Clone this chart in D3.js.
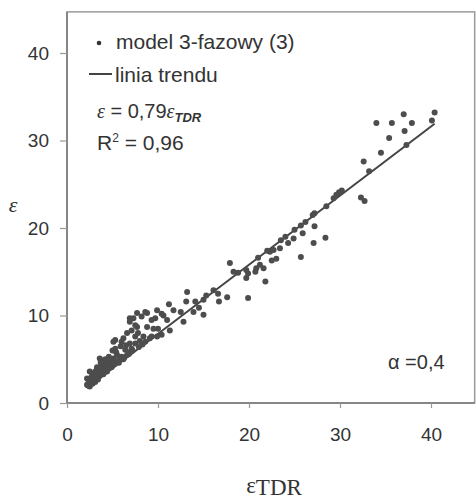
<!DOCTYPE html>
<html>
<head>
<meta charset="utf-8">
<script src="https://cdn.jsdelivr.net/npm/d3@7"></script>
<style>
  html, body { margin: 0; padding: 0; background: #fff; }
  svg { display: block; }
</style>
</head>
<body>
<svg id="chart" width="476" height="500"></svg>
<script>
// Measured permittivity (TDR) vs permittivity from the 3-phase model
const epsTDR = [
  34.0, 35.7, 37.0, 37.9, 37.1, 40.4, 40.1, 35.4, 37.3, 34.5, 32.6, 33.2, 30.2, 29.9, 29.3, 32.3, 32.7, 29.6,
  27.2, 27.0, 25.7, 27.2, 25.9, 24.9, 28.4, 27.1, 25.7, 24.3, 23.4, 22.7, 22.3, 22.5, 23.0, 21.6, 20.8, 20.7,
  21.2, 19.9, 19.7, 21.8, 17.9, 18.3, 19.7, 19.9, 17.6, 16.7, 16.6, 16.1, 15.3, 15.0, 15.0, 14.5, 14.1, 13.9,
  13.2, 13.1, 12.8, 12.5, 11.7, 11.2, 10.4, 10.6, 9.7, 11.0, 11.3, 9.5, 10.0, 10.4, 9.9,
  24.0, 25.0, 26.2, 23.5, 28.5, 21.0, 22.0, 18.8,
  8.8, 8.2, 9.3, 9.9, 6.9, 7.7, 8.8, 7.8, 8.4, 9.3, 7.5, 7.1, 6.2, 6.0, 5.1, 5.3, 5.5, 6.4, 4.7, 4.4,
  3.6, 3.8, 3.3, 3.1, 2.5, 2.7, 2.2, 2.2, 2.5, 3.1, 3.4, 4.0, 4.5, 5.1, 5.8, 6.6, 6.9, 6.6, 7.1, 7.5,
  6.9, 7.7, 8.6, 7.3, 7.5, 5.3,
  2.4, 2.8, 2.9, 3.2, 3.5, 3.9, 4.2, 4.8, 5.0, 5.6, 6.0, 6.2, 3.0, 2.6, 4.3, 5.4, 5.9, 6.5, 7.0, 7.9,
  8.3, 4.6, 3.7, 2.9, 3.6, 4.1,
  2.3, 2.6, 3.0, 3.4, 4.0, 4.4, 4.9, 5.2, 5.7, 6.3, 6.8, 7.2, 8.0, 8.6, 9.1, 5.0, 4.2, 3.3
];
const epsModel = [
  32.0, 32.0, 33.0, 32.0, 31.1, 33.2, 32.3, 30.3, 29.5, 28.6, 27.6, 26.5, 24.3, 24.1, 23.4, 23.5, 23.1, 23.8,
  21.7, 21.5, 20.3, 20.2, 19.4, 18.8, 18.9, 18.3, 16.7, 18.3, 17.7, 17.5, 17.3, 16.3, 16.5, 15.4, 15.4, 15.0,
  15.8, 14.8, 14.3, 13.9, 16.0, 15.0, 15.2, 12.0, 12.1, 11.6, 12.5, 12.9, 12.3, 11.8, 10.1, 10.9, 11.6, 10.4,
  12.7, 11.6, 9.3, 10.4, 10.6, 11.3, 10.2, 10.0, 9.7, 9.5, 8.3, 8.5, 8.5, 7.8, 7.6,
  19.0, 19.8, 20.7, 18.6, 22.5, 16.6, 17.4, 14.9,
  10.3, 9.9, 9.5, 10.6, 9.3, 8.7, 8.7, 8.0, 7.6, 7.6, 6.8, 6.2, 7.4, 7.0, 7.0, 6.2, 5.5, 6.1, 4.7, 4.5,
  5.1, 4.3, 4.1, 3.6, 3.6, 3.0, 2.8, 2.1, 1.9, 2.4, 3.0, 3.4, 4.0, 5.1, 5.1, 5.5, 6.8, 8.0, 8.3, 7.6,
  9.7, 10.3, 10.4, 9.7, 8.9, 7.2,
  2.4, 2.2, 2.7, 3.2, 3.5, 3.9, 4.4, 4.6, 4.3, 4.8, 5.3, 5.0, 2.9, 2.6, 3.7, 5.8, 6.5, 6.6, 5.9, 6.4,
  6.7, 5.3, 4.6, 3.3, 3.1, 4.9,
  2.0, 2.3, 2.5, 2.7, 3.3, 3.6, 4.1, 4.5, 4.6, 5.2, 5.6, 6.0, 7.1, 7.0, 7.4, 6.0, 5.0, 3.9
];
const tickValues = [0, 10, 20, 30, 40];
const trendSlope = 0.79;
const legendLabels = ["model 3-fazowy (3)", "linia trendu"];

const svg = d3.select("#chart");
const ink = "#333";

const x = d3.scaleLinear().domain([0, 40]).range([67, 431]);
const y = d3.scaleLinear().domain([0, 40]).range([403, 53]);
const xMax = 44.8, yMax = 44.7;

// plot frame (top and right edges)
svg.append("rect")
  .attr("x", x(0)).attr("y", y(yMax))
  .attr("width", x(xMax) - x(0)).attr("height", y(0) - y(yMax))
  .attr("fill", "none").attr("stroke", "#9a9a9a").attr("stroke-width", 1.5);

// axes
const yAxis = svg.append("g")
  .attr("transform", `translate(${x(0)},0)`)
  .call(d3.axisLeft(y).tickValues(tickValues).tickSize(7).tickPadding(11).tickSizeOuter(0));
const xAxis = svg.append("g")
  .attr("transform", `translate(0,${y(0)})`)
  .call(d3.axisBottom(x).tickValues(tickValues).tickSize(5).tickPadding(20).tickSizeOuter(0));

[xAxis, yAxis].forEach(g => {
  g.select(".domain").attr("stroke", "#777").attr("stroke-width", 1.5);
  g.selectAll(".tick line").attr("stroke", "#999").attr("stroke-width", 1.2);
  g.selectAll(".tick text")
    .attr("fill", ink)
    .style("font-family", "'Liberation Sans', Arial, sans-serif")
    .style("font-size", "19px");
});
yAxis.select(".domain").attr("d", `M0,${y(0)}V${y(yMax)}`);
xAxis.select(".domain").attr("d", `M${x(0)},0H${x(xMax)}`);

// trend line  ε = 0.79 εTDR, over the data range
const xExt = d3.extent(epsTDR);
svg.append("line")
  .attr("x1", x(xExt[0])).attr("y1", y(trendSlope * xExt[0]))
  .attr("x2", x(xExt[1])).attr("y2", y(trendSlope * xExt[1]))
  .attr("stroke", "#444").attr("stroke-width", 2);

// points
svg.append("g").selectAll("circle")
  .data(epsTDR.map((v, i) => [v, epsModel[i]]))
  .join("circle")
  .attr("cx", d => x(d[0]))
  .attr("cy", d => y(d[1]))
  .attr("r", 3)
  .attr("fill", "#4d4d4d");

// legend
const sans = "'Liberation Sans', Arial, sans-serif";
const serif = "'Liberation Serif', 'DejaVu Serif', serif";
svg.append("circle").attr("cx", 99).attr("cy", 43).attr("r", 2.3).attr("fill", ink);
svg.append("text").attr("x", 116).attr("y", 49)
  .attr("fill", ink).style("font-family", sans).style("font-size", "21px")
  .text(legendLabels[0]);
svg.append("line").attr("x1", 89).attr("x2", 112).attr("y1", 74).attr("y2", 74)
  .attr("stroke", "#444").attr("stroke-width", 2);
svg.append("text").attr("x", 115).attr("y", 82)
  .attr("fill", ink).style("font-family", sans).style("font-size", "21px")
  .text(legendLabels[1]);

// regression equation
const eq = svg.append("text").attr("x", 97).attr("y", 118)
  .attr("fill", ink).style("font-family", sans).style("font-size", "20px");
eq.append("tspan").style("font-family", serif).style("font-style", "italic").text("ε");
eq.append("tspan").text(" = 0,79");
eq.append("tspan").style("font-family", serif).style("font-style", "italic").text("ε");
eq.append("tspan").attr("dy", 4).style("font-size", "13px")
  .style("font-style", "italic").style("font-weight", "bold").text("TDR");

const r2 = svg.append("text").attr("x", 97).attr("y", 150)
  .attr("fill", ink).style("font-family", sans).style("font-size", "21px");
r2.append("tspan").text("R");
r2.append("tspan").attr("dy", -8).style("font-size", "12px").text("2");
r2.append("tspan").attr("dy", 8).text(" = 0,96");

// parameter note
svg.append("text").attr("x", 388).attr("y", 369)
  .attr("fill", ink).style("font-family", sans).style("font-size", "20px")
  .text("α =0,4");

// axis titles
svg.append("text").attr("x", 13).attr("y", 212).attr("text-anchor", "middle")
  .attr("fill", ink).style("font-family", serif).style("font-style", "italic").style("font-size", "22px")
  .text("ε");
const xt = svg.append("text").attr("x", 274).attr("y", 495).attr("text-anchor", "middle")
  .attr("fill", ink).style("font-family", serif).style("font-size", "23px");
xt.append("tspan").attr("dy", -2).text("ε");
xt.append("tspan").attr("dy", 2).text("TDR");
</script>
</body>
</html>
